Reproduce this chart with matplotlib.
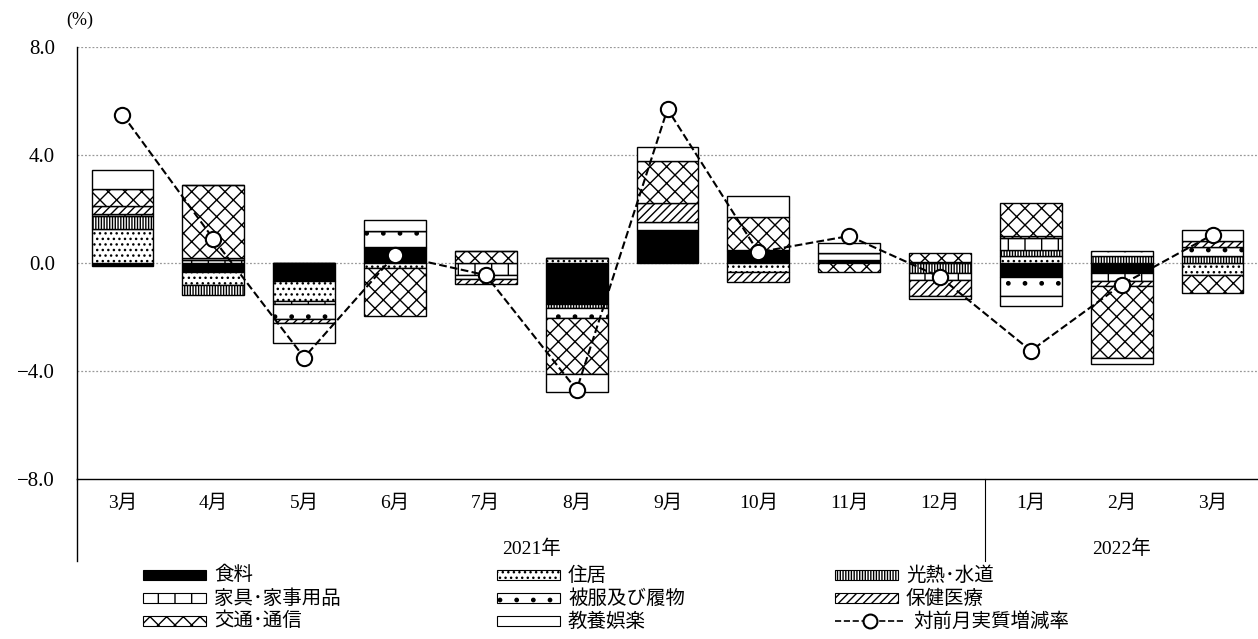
import numpy as np
import matplotlib.pyplot as plt
from matplotlib.patches import Rectangle
from matplotlib.lines import Line2D

plt.rcParams['font.family'] = ['Liberation Serif', 'Noto Sans CJK JP']
plt.rcParams['hatch.linewidth'] = 1.0

months = ['3月', '4月', '5月', '6月', '7月', '8月', '9月', '10月', '11月', '12月',
          '1月', '2月', '3月']
years = ['2021年', '2022年']

categories = ['食料', '住居', '光熱･水道', '家具･家事用品', '被服及び履物',
              '保健医療', '交通･通信', '教養娯楽']

food =          [-0.10, -0.35, -0.65, 0.55, 0.00, -1.50, 1.18, 0.43, 0.10, 0.00, -0.50, -0.37, 0.00]
housing =       [1.25, -0.45, -0.75, -0.20, 0.00, 0.20, 0.00, -0.35, 0.00, 0.00, 0.27, 0.00, -0.43]
utilities =     [0.50, -0.40, 0.00, 0.00, 0.00, -0.18, 0.00, 0.00, 0.00, -0.37, 0.20, 0.27, 0.25]
furniture =     [0.05, 0.10, -0.12, 0.05, -0.43, 0.00, 0.05, 0.05, 0.00, -0.25, 0.46, -0.31, 0.00]
clothing =      [0.00, 0.10, -0.55, 0.60, -0.18, -0.37, 0.30, 0.00, 0.27, 0.05, -0.74, 0.17, 0.35]
medical =       [0.30, 0.00, -0.15, 0.00, -0.18, 0.00, 0.68, -0.37, 0.00, -0.60, 0.08, -0.19, 0.20]
transport =     [0.65, 2.70, 0.00, -1.75, 0.45, -2.05, 1.58, 1.22, -0.32, 0.33, 1.23, -2.65, -0.68]
entertainment = [0.70, 0.00, -0.75, 0.38, 0.00, -0.68, 0.50, 0.80, 0.37, -0.10, -0.37, -0.21, 0.41]

real_change = [5.5, 0.9, -3.5, 0.3, -0.45, -4.7, 5.7, 0.4, 1.0, -0.52, -3.25, -0.8, 1.05]

series = [food, housing, utilities, furniture, clothing, medical, transport, entertainment]
faces = ['black', 'white', 'white', 'white', 'white', 'white', 'white', 'white']
hatches = [None, '...', '||||||', '|', '.', '////', 'xx', None]

fig = plt.figure(figsize=(12.58, 6.39), dpi=100)
ax = fig.add_axes([77 / 1258, 160 / 639, 1181 / 1258, 432 / 639])

x = np.arange(len(months))
pos = np.zeros(len(months))
neg = np.zeros(len(months))
for vals, fc, h in zip(series, faces, hatches):
    v = np.array(vals)
    bottoms = np.where(v >= 0, pos, neg)
    ax.bar(x, v, 0.68, bottom=bottoms, color=fc, edgecolor='black',
           hatch=h, linewidth=1.0, zorder=2)
    pos = pos + np.where(v > 0, v, 0)
    neg = neg + np.where(v < 0, v, 0)

ax.plot(x, real_change, '--', color='black', lw=1.5, marker='o', ms=11,
        mfc='white', mec='black', mew=1.5, zorder=4)

ax.set_xlim(-0.5, len(months) - 0.5)
ax.set_ylim(-8, 8)
ax.set_yticks([-8, -4, 0, 4, 8])
ax.set_yticklabels(['−8.0', '−4.0', '0.0', '4.0', '8.0'], fontsize=15)
ax.tick_params(axis='y', length=0, pad=16)
ax.set_xticks([])
for yv in [-4, 0, 4, 8]:
    ax.axhline(yv, color='#999999', lw=0.9, ls=(0, (1.5, 1.5)), zorder=1)
for s in ['top', 'right']:
    ax.spines[s].set_visible(False)
ax.spines['left'].set_linewidth(1.0)
ax.spines['bottom'].set_linewidth(1.0)

# category axis below
ax.add_line(Line2D([0, 0], [0, -0.19], transform=ax.transAxes, color='black',
                   lw=1.0, clip_on=False))
ax.add_line(Line2D([9.5, 9.5], [-8, -8 - 0.19 * 16], color='black', lw=0.8,
                   clip_on=False))
for i, m in enumerate(months):
    ax.text(i, -8.9, m, ha='center', va='center', fontsize=14)
ax.text(4.5, -10.6, years[0], ha='center', va='center', fontsize=14)
ax.text(11, -10.6, years[1], ha='center', va='center', fontsize=14)

fig.text(66 / 1258, 1 - 20 / 639, '(%)', fontsize=13, ha='left', va='center')

# legend
leg_font = ['Noto Sans CJK JP', 'DejaVu Sans']
col_x = [143, 497, 835]
row_y = [575, 598, 621]
for k in range(len(categories)):
    r, c = divmod(k, 3)
    x0 = col_x[c] / 1258
    y0 = 1 - (row_y[r] + 5) / 639
    fig.add_artist(Rectangle((x0, y0), 63 / 1258, 10 / 639, transform=fig.transFigure,
                             facecolor=faces[k], edgecolor='black',
                             hatch=hatches[k], lw=0.8))
    fig.text(x0 + 71 / 1258, 1 - row_y[r] / 639, categories[k], fontsize=14,
             family=leg_font, ha='left', va='center')
lx = col_x[2] / 1258
ly = 1 - row_y[2] / 639
fig.add_artist(Line2D([lx, lx + 70 / 1258], [ly, ly], transform=fig.transFigure,
                      color='black', ls='--', lw=1.2))
fig.add_artist(Line2D([lx + 35 / 1258], [ly], transform=fig.transFigure,
                      marker='o', ms=10, mfc='white', mec='black', mew=1.5))
fig.text(lx + 78 / 1258, ly, '対前月実質増減率', fontsize=14, family=leg_font,
         ha='left', va='center')

fig.savefig('out.png', dpi=100)
